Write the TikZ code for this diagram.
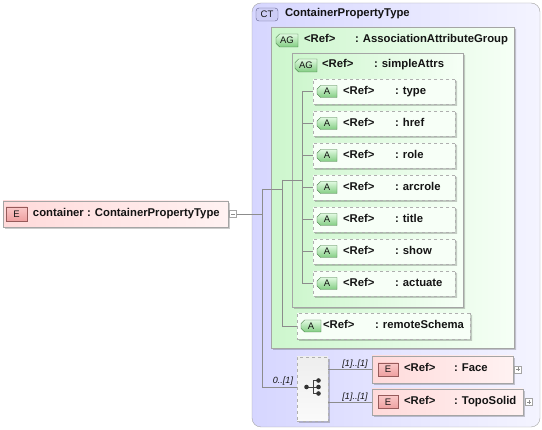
\documentclass[tikz,border=0pt]{standalone}
\usepackage{fontspec}
\setmainfont{Liberation Sans}
\usetikzlibrary{shapes.misc,shadows}
\definecolor{lineg}{RGB}{140,140,140}
\definecolor{boxb}{RGB}{165,165,165}
\definecolor{dashb}{RGB}{175,175,175}
\definecolor{txt}{RGB}{20,20,20}
\definecolor{epinkL}{RGB}{255,218,218}
\definecolor{epinkR}{RGB}{255,242,242}
\definecolor{ebadgeT}{RGB}{250,200,200}
\definecolor{ebadgeB}{RGB}{238,160,160}
\definecolor{ebadgeb}{RGB}{150,90,90}
\definecolor{ctL}{RGB}{214,214,255}
\definecolor{ctR}{RGB}{244,244,255}
\definecolor{ctbadge}{RGB}{205,205,245}
\definecolor{ctbadgeb}{RGB}{95,95,140}
\definecolor{agL}{RGB}{205,246,205}
\definecolor{agR}{RGB}{246,255,246}
\definecolor{gbT}{RGB}{225,250,225}
\definecolor{gbB}{RGB}{130,205,130}
\definecolor{gbb}{RGB}{60,115,60}
\definecolor{abox}{RGB}{247,255,247}
\definecolor{seqT}{RGB}{238,238,238}
\definecolor{seqB}{RGB}{250,250,250}
\tikzset{
  every node/.style={inner sep=0pt, outer sep=0pt},
  lbl/.style={anchor=west, font=\fontsize{11.3}{13}\selectfont\bfseries, text height=8pt, text depth=2.2pt, text=txt},
  card/.style={font=\fontsize{9}{10}\selectfont\itshape, text=txt},
  shd/.style={drop shadow={shadow xshift=2pt, shadow yshift=-2pt, fill=black, opacity=0.2}},
  conn/.style={draw=lineg, line width=0.7pt},
  ebox/.style={rectangle, draw=boxb, left color=epinkL, right color=epinkR, shd},
  ebadge/.style={rectangle, draw=ebadgeb, top color=ebadgeT, bottom color=ebadgeB, minimum width=20pt, minimum height=13pt, font=\fontsize{9.5}{10}\selectfont, text=txt},
  pm/.style={rectangle, draw=boxb, fill=white, minimum width=7pt, minimum height=7pt},
  chf/.style={chamfered rectangle, chamfered rectangle corners={north west,south west}, chamfered rectangle xsep=#1, chamfered rectangle ysep=#1},
  agbox/.style={chf=11pt, draw=boxb, left color=agL, right color=agR, shd},
  gbadge/.style={chf=1.8pt, draw=gbb, top color=gbT, bottom color=gbB, font=\fontsize{9.5}{10}\selectfont, text=txt},
  attrbox/.style={chf=9pt, draw=dashb, dashed, fill=abox, shd, minimum width=142pt, minimum height=25pt},
}
\begin{document}
\begin{tikzpicture}[x=1pt,y=-1pt]
\useasboundingbox (0,0) rectangle (542,430);
\fill[white] (0,0) rectangle (542,430);

% complex type frame
\node[rectangle, rounded corners=9pt, draw=boxb, left color=ctL, right color=ctR, minimum width=288pt, minimum height=424pt] (ct) at (396,215) {};
\node[rectangle, rounded corners=3pt, draw=ctbadgeb, fill=ctbadge, minimum width=22pt, minimum height=13pt, font=\fontsize{9.5}{10}\selectfont, text=txt] (ctb) at (267,14.5) {CT};
\node[lbl] (ctt) at (285,14) {ContainerPropertyType};

% outer attribute group
\node[agbox, minimum width=243pt, minimum height=321pt] (ag1) at (392.5,187.5) {};
\node[gbadge, minimum width=22pt, minimum height=13pt] (ag1b) at (287,40.5) {AG};
\node[lbl] (ag1r) at (304,40) {<Ref>};
\node[lbl] (ag1n) at (355,40) {: AssociationAttributeGroup};

% inner attribute group
\node[agbox, minimum width=171pt, minimum height=254pt] (ag2) at (377.5,180) {};
\node[gbadge, minimum width=22pt, minimum height=13pt] (ag2b) at (306,65.5) {AG};
\node[lbl] (ag2r) at (322,65) {<Ref>};
\node[lbl] (ag2n) at (374,65) {: simpleAttrs};

% attributes
\foreach \nm [count=\i from 0] in {type,href,role,arcrole,title,show,actuate}{
  \pgfmathsetmacro{\yy}{91.5+32*\i}
  \node[attrbox] (at\i) at (384,\yy) {};
  \node[gbadge, minimum width=20pt, minimum height=12pt] (at\i b) at (327,\yy) {A};
  \node[lbl] (at\i r) at (343,\yy) {<Ref>};
  \node[lbl] (at\i n) at (395,\yy) {: \nm};
}

% remoteSchema
\node[attrbox, minimum width=173pt, minimum height=26pt] (rs) at (383.5,326) {};
\node[gbadge, minimum width=20pt, minimum height=12pt] (rsb) at (311,326) {A};
\node[lbl] (rsr) at (323,326) {<Ref>};
\node[lbl] (rsn) at (375,326) {: remoteSchema};

% top element
\node[ebox, minimum width=225pt, minimum height=26pt] (cont) at (115.5,214) {};
\node[ebadge, minimum width=21pt, minimum height=14pt] (contb) at (16.5,214) {E};
\node[lbl] (contn) at (33,214) {container};
\node[lbl] (contt) at (87,214) {: ContainerPropertyType};
\node[pm] (contm) at (233,214) {};
\draw[lineg, line width=0.6pt] ([xshift=1.5pt]contm.west) -- ([xshift=-1.5pt]contm.east);

% sequence compositor
\node[rectangle, draw=dashb, dashed, top color=seqT, bottom color=seqB, shd, minimum width=31pt, minimum height=64pt] (seq) at (312.5,389) {};
\draw[black!75, line width=0.8pt] (307,387) -- (313,387) (313,380.5) -- (313,393.5)
  (313,380.5) -- (318,380.5) (313,393.5) -- (318,393.5) (313,387) -- (318,387);
\fill[black!80] (306.5,387) circle [radius=2.3pt];
\fill[black!80] (318.5,380.5) circle [radius=2.3pt];
\fill[black!80] (318.5,387) circle [radius=2.3pt];
\fill[black!80] (318.5,393.5) circle [radius=2.3pt];

% child elements
\node[ebox, minimum width=141pt, minimum height=27pt] (face) at (442.5,369.5) {};
\node[ebadge] (faceb) at (388,369.5) {E};
\node[lbl] (facer) at (404,369) {<Ref>};
\node[lbl] (facen) at (454,369) {: Face};
\node[pm] (facep) at (518,369.5) {};
\draw[lineg, line width=0.6pt] ([xshift=1.5pt]facep.west) -- ([xshift=-1.5pt]facep.east) ([yshift=-1.5pt]facep.north) -- ([yshift=1.5pt]facep.south);

\node[ebox, minimum width=151pt, minimum height=26pt] (topo) at (447.5,402) {};
\node[ebadge] (topob) at (388,402) {E};
\node[lbl] (topor) at (404,402) {<Ref>};
\node[lbl] (topon) at (454,402) {: TopoSolid};
\node[pm] (topop) at (529,402) {};
\draw[lineg, line width=0.6pt] ([xshift=1.5pt]topop.west) -- ([xshift=-1.5pt]topop.east) ([yshift=-1.5pt]topop.north) -- ([yshift=1.5pt]topop.south);

% bus coordinates
\coordinate (b1) at (262,214);
\coordinate (b1t) at (262,189);
\coordinate (b1b) at (262,387);
\coordinate (b2t) at (282,180);
\coordinate (b2m) at (282,189);
\coordinate (b2b) at (282,326);
\coordinate (b3m) at (302,180);
\coordinate (b3t) at (302,91.5);
\coordinate (b3b) at (302,283.5);

% connectors
\draw[conn] (contm.east) -- (b1);
\draw[conn] (b1t) -- (b1b);
\draw[conn] (b1t) -- (b2m);
\draw[conn] (b2t) -- (b2b);
\draw[conn] (b2t) -- (b3m);
\draw[conn] (b3t) -- (b3b);
\foreach \i in {0,...,6}{ \draw[conn] (b3t |- at\i.west) -- (at\i.west); }
\draw[conn] (b2b) -- (rs.west);
\draw[conn] (b1b) -- (seq.west |- b1b);
\draw[conn] (seq.east |- face.west) -- (face.west);
\draw[conn] (seq.east |- topo.west) -- (topo.west);

% cardinalities
\node[card, anchor=east] (c0) at (293,381) {0..[1]};
\node[card] (c1) at (355,364) {[1]..[1]};
\node[card] (c2) at (355,397) {[1]..[1]};
\end{tikzpicture}
\end{document}
